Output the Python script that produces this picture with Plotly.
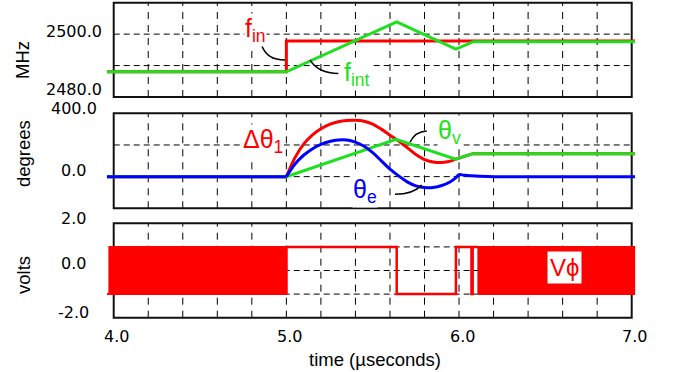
import numpy as np
import plotly.graph_objects as go

W, H = 676, 372
FONT = "Liberation Sans"
TICK_FAMILY = "DejaVu Sans"
RED, GREEN, BLUE = "#ff0000", "#1ee01e", "#0000ff"

# ---------------- data ----------------
# frequency panel (MHz)
t_fin = [3.96, 5.0, 5.0, 7.02]
f_in = [2488.0, 2488.0, 2497.8, 2497.8]
t_fint = [3.96, 5.0, 5.639, 5.982, 6.083, 7.02]
f_int = [2488.0, 2488.0, 2503.9, 2495.2, 2497.6, 2497.6]

# phase panel (degrees)
t_dtheta1 = [3.96, 5.0, 5.05, 5.1, 5.15, 5.2, 5.25, 5.3, 5.35, 5.4, 5.45, 5.5,
             5.55, 5.6, 5.65, 5.7, 5.75, 5.8, 5.85, 5.9, 5.95, 5.98, 6.08, 7.02]
dtheta1 = [0, 0, 120, 205, 262, 302, 330, 347, 355, 356, 350, 332,
           300, 262, 225, 183, 140, 108, 93, 90, 98, 110, 145, 145]
t_thetae = [3.96, 5.0, 5.05, 5.1, 5.15, 5.2, 5.25, 5.3, 5.35, 5.4, 5.45, 5.5,
            5.55, 5.6, 5.65, 5.7, 5.75, 5.8, 5.85, 5.9, 5.95, 5.98, 6.0, 6.03,
            6.1, 6.2, 7.02]
theta_e = [0, 0, 80, 135, 175, 203, 222, 232, 232, 218, 192, 152,
           100, 47, 5, -33, -58, -69, -68, -56, -32, -8, 12, 9,
           4, 0, 0]
t_thetav = [3.96, 5.0, 5.635, 5.98, 6.08, 7.02]
theta_v = [0, 0, 236, 110, 145, 145]

# phase-detector output (volts)
t_lead = [3.96, 3.975]
v_lead = [-1, -1]
band_start = [3.975, 6.112]
band_end = [5.0, 7.02]
t_sq = [5.0, 5.0, 5.639, 5.639, 5.982, 5.982, 6.072, 6.072, 6.079, 6.079, 6.112]
v_sq = [-1, 1, 1, -1, -1, 1, 1, -1, -1, 1, 1]

# axes
x_lo, x_hi = 3.96, 7.02
x_frame = (4.0, 7.0)
x_ticks = [4.0, 5.0, 6.0, 7.0]
x_ticktext = ["4.0", "5.0", "6.0", "7.0"]
x_grid = [round(4.0 + 0.2 * k, 1) for k in range(1, 15)]
panels = [
    dict(rng=[2480, 2510], grid=[2490, 2500], ticks=[2480, 2500],
         ticktext=["2480.0", "2500.0"], title="MHz"),
    dict(rng=[-200, 400], grid=[0, 200], ticks=[0, 400],
         ticktext=["0.0", "400.0"], title="degrees"),
    dict(rng=[-2, 2], grid=[-1, 0, 1], ticks=[-2, 0, 2],
         ticktext=["-2.0", "0.0", "2.0"], title="volts"),
]
# vertical pixel extent of each panel (top, bottom)
panel_px = [(2.7, 97.0), (113.3, 208.3), (223.3, 317.7)]
x_px = (106.8, 635.15)
# y-tick label centres (px) and axis-title centres (px)
tick_label_px = [[89.5, 31.2], [170.3, 109.0], [312.8, 263.3, 218.7]]
title_px = [60, 154, 275]


def py(p):
    return 1 - p / H


def px(p):
    return p / W


fig = go.Figure()


def add_curve(t, y, lo, hi, color, xa, ya, width=3):
    """Straight segments outside [lo, hi], smooth spline inside."""
    t = np.asarray(t, float)
    y = np.asarray(y, float)
    before = t <= lo
    inside = (t >= lo) & (t <= hi)
    after = t >= hi
    for mask, shape in ((before, "linear"), (inside, "spline"), (after, "linear")):
        if mask.sum() >= 2:
            fig.add_trace(go.Scatter(
                x=t[mask], y=y[mask], mode="lines", xaxis=xa, yaxis=ya,
                line=dict(color=color, width=width, shape=shape, smoothing=1.0),
                showlegend=False, hoverinfo="skip"))


# top panel
fig.add_trace(go.Scatter(x=t_fin, y=f_in, mode="lines", xaxis="x", yaxis="y",
                         line=dict(color=RED, width=3), showlegend=False))
fig.add_trace(go.Scatter(x=t_fint, y=f_int, mode="lines", xaxis="x", yaxis="y",
                         line=dict(color=GREEN, width=3), showlegend=False))

# middle panel
add_curve(t_dtheta1, dtheta1, 5.0, 5.98, RED, "x2", "y2")
fig.add_trace(go.Scatter(x=t_thetav, y=theta_v, mode="lines", xaxis="x2", yaxis="y2",
                         line=dict(color=GREEN, width=3), showlegend=False))
add_curve(t_thetae, theta_e, 5.0, 6.2, BLUE, "x2", "y2")

# bottom panel: densely switching intervals drawn as solid bands
for s, e in zip(band_start, band_end):
    fig.add_trace(go.Scatter(x=[s, s, e, e, s], y=[-1, 1, 1, -1, -1], mode="lines",
                             fill="toself", fillcolor=RED, xaxis="x3", yaxis="y3",
                             line=dict(color=RED, width=2), showlegend=False))
fig.add_trace(go.Scatter(x=t_lead, y=v_lead, mode="lines", xaxis="x3", yaxis="y3",
                         line=dict(color=RED, width=2), showlegend=False))
fig.add_trace(go.Scatter(x=t_sq, y=v_sq, mode="lines", xaxis="x3", yaxis="y3",
                         line=dict(color=RED, width=2.5), showlegend=False))

shapes = []
annotations = []
axis_common = dict(showgrid=False, zeroline=False, showline=False,
                   showticklabels=False, ticks="", fixedrange=True)
layout_axes = {}
TICKFONT = dict(family=TICK_FAMILY, size=16, color="black")
TITLEFONT = dict(family=FONT, size=18.5, color="black")
for i, (p, (ptop, pbot)) in enumerate(zip(panels, panel_px)):
    n = "" if i == 0 else str(i + 1)
    xa, ya = "x" + n, "y" + n
    layout_axes["xaxis" + n] = dict(range=[x_lo, x_hi], domain=[px(x_px[0]), px(x_px[1])],
                                    anchor=ya, **axis_common)
    layout_axes["yaxis" + n] = dict(range=p["rng"], domain=[py(pbot), py(ptop)],
                                    anchor=xa, **axis_common)
    for g in x_grid:
        shapes.append(dict(type="line", xref=xa, yref=ya + " domain", x0=g, x1=g,
                           y0=0, y1=1, layer="below",
                           line=dict(color="black", width=1, dash="7px,6px")))
    for g in p["grid"]:
        shapes.append(dict(type="line", xref=xa, yref=ya, x0=x_frame[0], x1=x_frame[1],
                           y0=g, y1=g, layer="below",
                           line=dict(color="black", width=1, dash="6px,4px")))
    shapes.append(dict(type="rect", xref=xa, yref=ya + " domain", x0=x_frame[0],
                       x1=x_frame[1], y0=0, y1=1, layer="below",
                       line=dict(color="#111111", width=2)))
    for txt, ypx in zip(p["ticktext"], tick_label_px[i]):
        annotations.append(dict(text=txt, xref="paper", x=px(73.5), yref="paper", y=py(ypx),
                                xanchor="center", yanchor="middle",
                                showarrow=False, font=TICKFONT))
    annotations.append(dict(text=p["title"], xref="paper", yref="paper",
                            x=px(23), y=py(title_px[i]), textangle=-90,
                            xanchor="center", yanchor="middle", showarrow=False,
                            font=TITLEFONT))

for v, txt in zip(x_ticks, x_ticktext):
    annotations.append(dict(text=txt, xref="x3", x=v, xshift=3, yref="paper", y=py(336.7),
                            xanchor="center", yanchor="middle", showarrow=False,
                            font=TICKFONT))
annotations.append(dict(text="time (\u00b5seconds)", xref="paper", yref="paper",
                        x=px(374.7), y=py(359), xanchor="center", yanchor="middle",
                        showarrow=False, font=TITLEFONT))

# curve labels
lab = dict(family=FONT, size=25)
label_box = dict(xref="paper", yref="paper", xanchor="center", yanchor="middle",
                 showarrow=False, bgcolor="white", borderpad=0)
annotations += [
    dict(text="f<sub>in</sub>", x=px(255), y=py(30), font=dict(lab, color=RED), **label_box),
    dict(text="f<sub>int</sub>", x=px(357), y=py(74), font=dict(lab, color=GREEN), **label_box),
    dict(text="\u0394\u03b8<sub>1</sub>", x=px(263), y=py(141), font=dict(lab, color=RED),
         **label_box),
    dict(text="\u03b8<sub>v</sub>", x=px(449.5), y=py(131.5), font=dict(lab, color=GREEN),
         **label_box),
    dict(text="\u03b8<sub>e</sub>", x=px(364.5), y=py(191), font=dict(lab, color=BLUE),
         **label_box),
    dict(text="V\u03d5", xref="paper", yref="paper", x=px(564.5), y=py(267.5),
         xanchor="center", yanchor="middle", showarrow=False, bgcolor="white",
         borderpad=2, font=dict(family=FONT, size=24, color=RED)),
]

# leader lines from labels to curves
leader = dict(color="black", width=1.5)
shapes += [
    dict(type="path", xref="x", yref="y", path="M 4.857,2496.5 Q 4.886,2491.8 4.992,2491.8",
         line=leader),
    dict(type="path", xref="x", yref="y", path="M 5.137,2491.8 Q 5.185,2487.5 5.301,2487.5",
         line=leader),
    dict(type="path", xref="x2", yref="y2", path="M 5.813,288 Q 5.745,284 5.716,217",
         line=leader),
    dict(type="path", xref="x2", yref="y2", path="M 5.629,-111.6 Q 5.735,-111.6 5.784,-52.8",
         line=leader),
]

fig.update_layout(
    width=W, height=H, margin=dict(l=0, r=0, t=0, b=0),
    paper_bgcolor="white", plot_bgcolor="white",
    showlegend=False, shapes=shapes, annotations=annotations,
    **layout_axes,
)

fig.write_html("out.html")
